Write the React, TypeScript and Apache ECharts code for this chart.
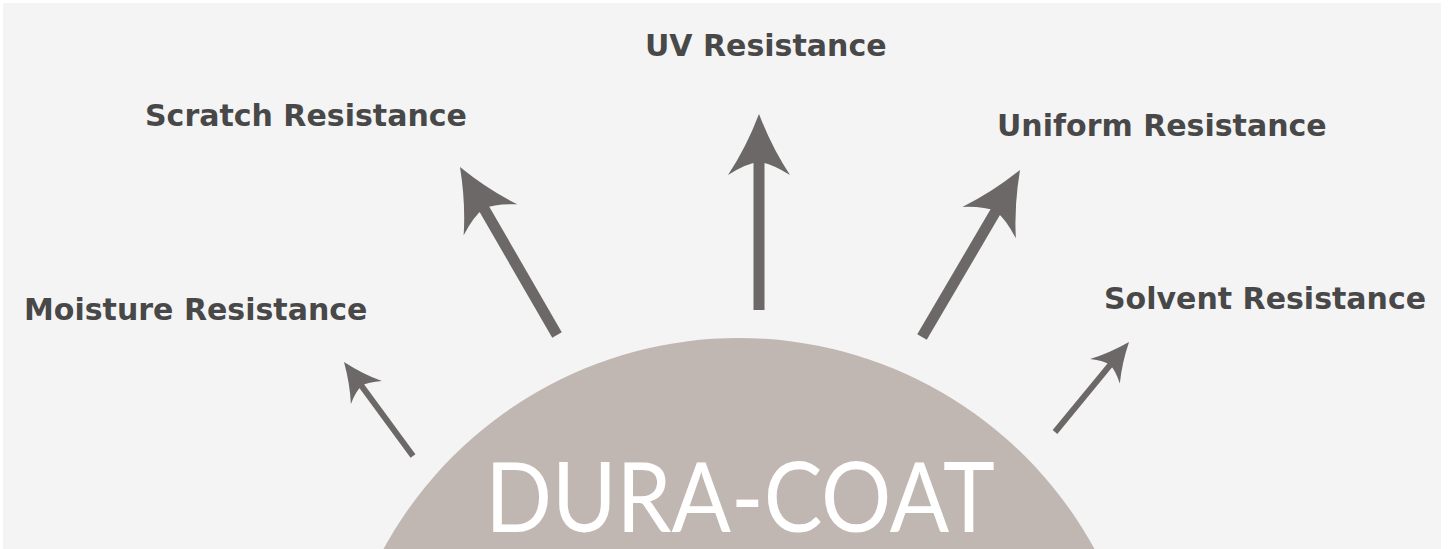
import React, { useEffect, useRef } from 'react';
import * as echarts from 'echarts';

// ---- content ----
const brand = 'DURA-COAT';
const labels = ['Moisture Resistance', 'Scratch Resistance', 'UV Resistance', 'Uniform Resistance', 'Solvent Resistance'];

// ---- layout (pixels) ----
const labelPos: [number, number][] = [[24, 309], [145, 115], [645, 45.5], [997, 125], [1104, 298]];
const arrowTips: [number, number][] = [[344, 362], [460, 167], [759, 114], [1020, 170], [1129, 342]];
const arrowTails: [number, number][] = [[413, 456], [557, 335], [759, 310], [922, 337], [1055, 432]];
const arrowScale = [0.62, 1, 1, 1, 0.62];
const shaftWidth = [6, 11, 11, 11, 6];

// ---- styles ----
const BG = '#f4f4f4';
const DOME = '#c1b7b2';
const ARROW = '#6b6867';
const TEXT = '#484848';

const HEAD_PATH = 'M0 0 Q13 34 31 61 Q12 49 0 48 Q-12 49 -31 61 Q-13 34 0 0 Z';
try {
  echarts.graphic.registerShape('arrowHead', echarts.graphic.extendPath(HEAD_PATH, {}) as any);
} catch (e) {
  /* already registered */
}

export default function App() {
  const ref = useRef<HTMLDivElement>(null);
  useEffect(() => {
    if (!ref.current) return;
    const chart = echarts.init(ref.current, null, { renderer: 'svg' });

    const brandFont = 'normal 96px Lato';
    let brandScale = 1;
    try {
      const c = document.createElement('canvas').getContext('2d');
      if (c) {
        c.font = brandFont;
        const w = c.measureText(brand).width;
        if (w > 0) brandScale = 510 / w;
      }
    } catch (e) {}

    const elements: any[] = [];
    elements.push({ type: 'rect', shape: { x: 0, y: 0, width: 1450, height: 549 }, style: { fill: '#ffffff' }, z: 0 });
    elements.push({ type: 'rect', shape: { x: 3, y: 3, width: 1438, height: 546 }, style: { fill: BG }, z: 1 });
    elements.push({ type: 'circle', shape: { cx: 739, cy: 743, r: 405 }, style: { fill: DOME }, z: 2 });

    arrowTips.forEach((tip, i) => {
      const tail = arrowTails[i];
      const dx = tip[0] - tail[0];
      const dy = tip[1] - tail[1];
      const len = Math.sqrt(dx * dx + dy * dy);
      const ux = dx / len;
      const uy = dy / len;
      const s = arrowScale[i];
      const inset = 45 * s;
      elements.push({
        type: 'line',
        shape: { x1: tail[0], y1: tail[1], x2: tip[0] - ux * inset, y2: tip[1] - uy * inset },
        style: { stroke: ARROW, lineWidth: shaftWidth[i], lineCap: 'butt' },
        z: 3,
      });
      elements.push({
        type: 'arrowHead',
        x: tip[0],
        y: tip[1],
        scaleX: s,
        scaleY: s,
        rotation: Math.atan2(-dx, -dy),
        style: { fill: ARROW },
        z: 4,
      });
    });

    labels.forEach((t, i) => {
      elements.push({
        type: 'text',
        x: labelPos[i][0],
        y: labelPos[i][1],
        style: {
          text: t,
          fill: TEXT,
          font: 'bold 30px "DejaVu Sans"',
          align: 'left',
          verticalAlign: 'middle',
        },
        z: 5,
      });
    });

    elements.push({
      type: 'text',
      x: 740,
      y: 495,
      scaleX: brandScale,
      style: {
        text: brand,
        fill: '#ffffff',
        font: brandFont,
        align: 'center',
        verticalAlign: 'middle',
      },
      z: 5,
    });

    chart.setOption({ animation: false, graphic: { elements } });
    return () => chart.dispose();
  }, []);

  return <div ref={ref} style={{ position: 'absolute', left: 0, top: 0, width: 1450, height: 549 }} />;
}
